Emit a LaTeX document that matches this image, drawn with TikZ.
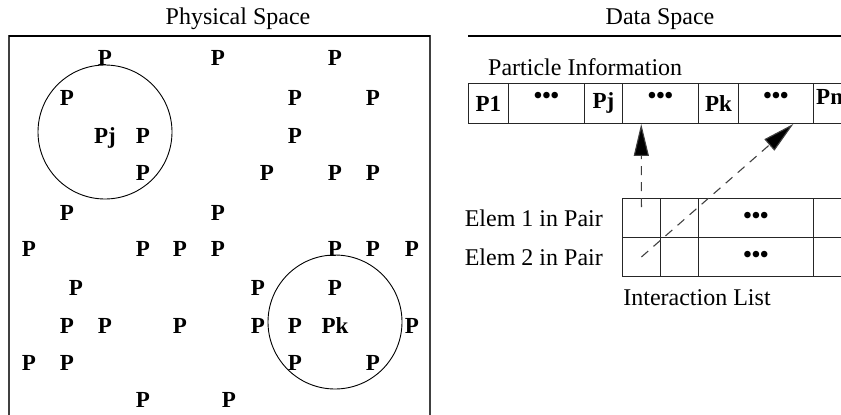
\documentclass[tikz,border=0pt]{standalone}
\usepackage{fontspec}
\setmainfont{Liberation Serif}
\usetikzlibrary{arrows.meta,calc}
\begin{document}
\begin{tikzpicture}[x=1pt,y=-1pt,
  lbl/.style={font=\fontsize{24}{26}\selectfont, inner sep=0},
  pt/.style={font=\bfseries\fontsize{23}{25}\selectfont, inner sep=0, anchor=base},
  cell/.style={draw=black!85, line width=0.9pt, minimum height=40pt, inner sep=0, font=\bfseries\fontsize{23}{25}\selectfont},
  icell/.style={draw=black!85, line width=0.9pt, minimum height=39pt, inner sep=0, font=\bfseries\fontsize{23}{25}\selectfont},
  dotstxt/.style={font=\bfseries\fontsize{24}{26}\selectfont, inner sep=0},
  ptr/.style={draw=black!75, line width=1.1pt, dash pattern=on 9pt off 7pt,
     -{Triangle[length=32pt,width=15pt,fill=black]}},
  rng/.style={draw=black, line width=0.9pt}]
\useasboundingbox (0,0) rectangle (841,415);
\clip (0,0) rectangle (841,415);
% ---------- Physical space ----------
\node[lbl] (physT) at (238,19) {Physical Space};
\draw[black!75, line width=1.2pt] (9,440) -- (9,36) -- (430,36) -- (430,440);
\draw[black, line width=1.2pt] (9,36) -- (430,36);
\node[rng, circle, minimum size=134pt, inner sep=0] (c1) at (105,132) {};
\node[rng, circle, minimum size=134pt, inner sep=0] (c2) at (335,322) {};
% particles (x, baseline)
\foreach \x/\y [count=\i] in {
  105/65, 218/65, 335/65,
  67/105, 295/105, 373/105,
  143/143, 295/143,
  143/180, 267/180, 335/180, 373/180,
  67/220, 218/220,
  29/256, 143/256, 180/256, 218/256, 335/256, 373/256, 412/256,
  76/295, 258/295, 335/295,
  67/333, 105/333, 180/333, 258/333, 295/333, 412/333,
  29/370, 67/370, 295/370, 373/370,
  143/407, 229/407}
  \node[pt] (p\i) at (\x,\y) {P};
\node[pt] (pj) at (105,143) {Pj};
\node[pt] (pk) at (335,333) {Pk};
% ---------- Data space ----------
\node[lbl] (dataT) at (660,19) {Data Space};
\draw[black, line width=1.2pt] (468,36) -- (845,36);
\node[lbl, anchor=west] (pinfo) at (488,67) {Particle Information};
% particle table
\node[cell, minimum width=40pt, anchor=north west] (t1) at (468,83) {P1};
\node[cell, minimum width=76pt, anchor=north west] (t2) at (508,83) {};
\node[cell, minimum width=38pt, anchor=north west] (t3) at (584,83) {Pj};
\node[cell, minimum width=76pt, anchor=north west] (t4) at (622,83) {};
\node[cell, minimum width=40pt, anchor=north west] (t5) at (698,83) {Pk};
\node[cell, minimum width=75pt, anchor=north west] (t6) at (738,83) {};
\node[cell, minimum width=40pt, anchor=north west] (t7) at (813,83) {};
\node[pt, anchor=base west] (pn) at (816,104) {Pn};
\foreach \n in {t2,t4,t6}
  \node[dotstxt] (d\n) at ($(\n.center)+(0,-6)$) {•••};
% interaction list
\node[icell, minimum width=38pt, anchor=north west] (i11) at (622,198) {};
\node[icell, minimum width=38pt, anchor=north west] (i12) at (660,198) {};
\node[icell, minimum width=115pt, anchor=north west] (i13) at (698,198) {};
\node[icell, minimum width=60pt, anchor=north west] (i14) at (813,198) {};
\node[icell, minimum width=38pt, anchor=north west] (i21) at (622,237) {};
\node[icell, minimum width=38pt, anchor=north west] (i22) at (660,237) {};
\node[icell, minimum width=115pt, anchor=north west] (i23) at (698,237) {};
\node[icell, minimum width=60pt, anchor=north west] (i24) at (813,237) {};
\foreach \n in {i13,i23}
  \node[dotstxt] (d\n) at (\n.center) {•••};
\node[lbl, anchor=east] (e1) at (603,218) {Elem 1 in Pair};
\node[lbl, anchor=east] (e2) at (603,257) {Elem 2 in Pair};
\node[lbl] (ilist) at (697,298) {Interaction List};
% pointers
\coordinate (a1) at ($(i11.north)+(0,9)$);
\coordinate (b1) at ($(t4.south west)!0.25!(t4.south east)$);
\coordinate (b2) at ($(t6.south west)!0.73!(t6.south east)$);
\draw[ptr] (a1) -- (b1);
\draw[ptr] (i21.center) -- (b2);
\end{tikzpicture}
\end{document}
